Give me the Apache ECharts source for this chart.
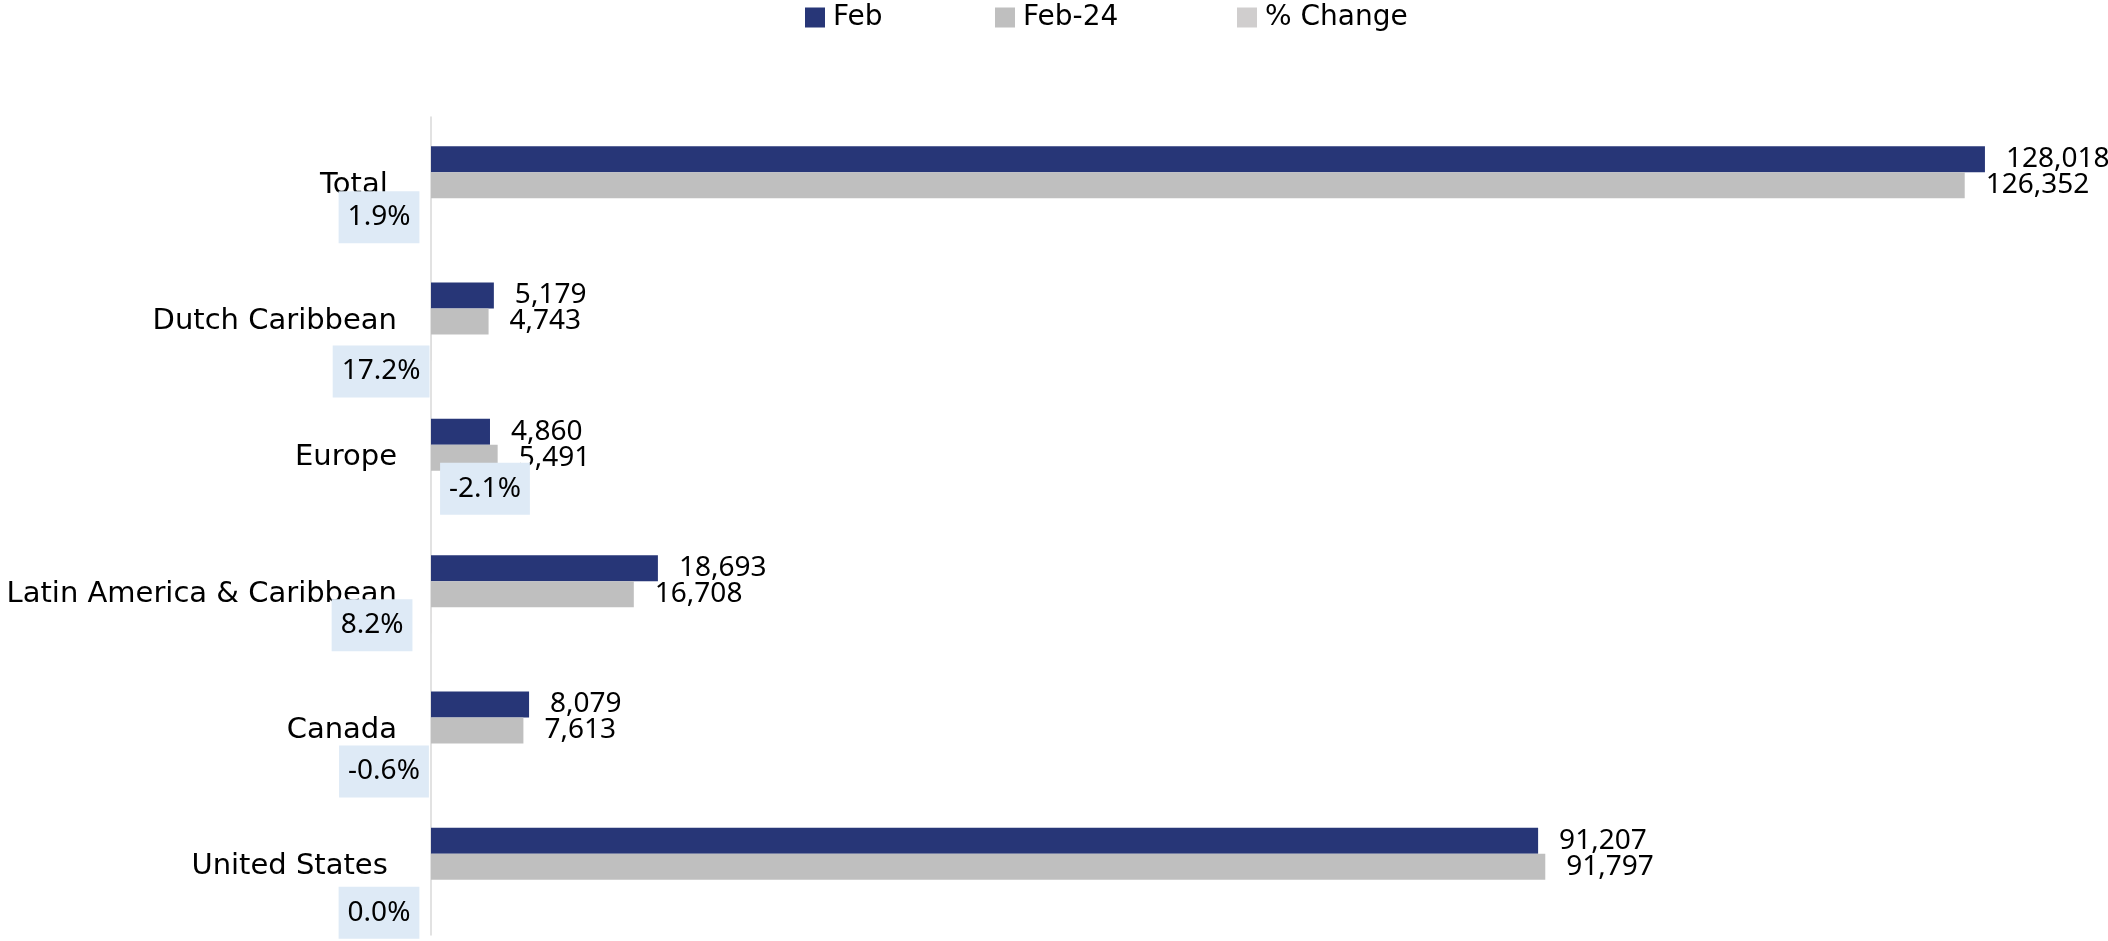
<!DOCTYPE html>
<html>
<head>
<meta charset="utf-8">
<script src="https://cdn.jsdelivr.net/npm/echarts@6/dist/echarts.min.js"></script>
<style>
  html, body { margin: 0; padding: 0; background: #fff; }
  #chart { width: 2108px; height: 941px; }
</style>
</head>
<body>
<div id="chart"></div>
<script>
// ---- data ----
const categories = ['Total ', 'Dutch Caribbean', 'Europe', 'Latin America & Caribbean', 'Canada', 'United States '];
const febValues = [128018, 5179, 4860, 18693, 8079, 91207];
const feb24Values = [126352, 4743, 5491, 16708, 7613, 91797];
const pctChange = [1.9, 17.2, -2.1, 8.2, -0.6, 0.0];
const seriesNames = ['Feb', 'Feb-24', '% Change'];

// ---- styling (positions of % labels, not data) ----
const pctLabelOffsets = [[-52, 6], [-50, 24], [54, 5], [-59, 5], [-47, 15], [-52, 20]];
const TEXT_FONT = '"DejaVu Sans", sans-serif';
const NUM_FONT = '"Noto Sans", sans-serif';

const chart = echarts.init(document.getElementById('chart'), null, { renderer: 'canvas' });

const valueLabel = {
  show: true,
  position: 'right',
  distance: 21,
  color: '#000',
  fontFamily: NUM_FONT,
  fontSize: 28,
  formatter: p => p.value.toLocaleString('en-US')
};

chart.setOption({
  animation: false,
  backgroundColor: '#fff',
  textStyle: { fontFamily: TEXT_FONT },
  legend: [
    { data: [seriesNames[0]], left: 805, top: 0 },
    { data: [seriesNames[1]], left: 995, top: 0 },
    { data: [seriesNames[2]], left: 1237, top: 0 }
  ].map(l => Object.assign(l, {
    icon: 'rect', itemWidth: 20, itemHeight: 20, selectedMode: false, padding: 0,
    textStyle: { fontFamily: TEXT_FONT, fontSize: 28, color: '#000', lineHeight: 35, padding: [0, 0, 0, 3] }
  })),
  grid: { left: 431, right: 99, top: 117, bottom: 6, containLabel: false, outerBoundsMode: 'none' },
  xAxis: {
    type: 'value', min: 0, max: 130000, show: false,
    splitLine: { show: false }
  },
  yAxis: {
    type: 'category',
    data: categories,
    inverse: true,
    axisLine: { show: true, lineStyle: { color: '#D9D9D9', width: 1.5 } },
    axisTick: { show: false },
    axisLabel: { margin: 34, color: '#000', fontFamily: TEXT_FONT, fontSize: 29 }
  },
  series: [
    {
      name: seriesNames[0], type: 'bar', data: febValues,
      barWidth: 26, barGap: '0%',
      itemStyle: { color: '#273677' },
      label: valueLabel
    },
    {
      name: seriesNames[1], type: 'bar', data: feb24Values,
      barWidth: 26, barGap: '0%',
      itemStyle: { color: '#BFBFBF' },
      label: valueLabel
    },
    {
      name: seriesNames[2], type: 'bar', clip: false,
      barWidth: 26, barGap: '0%',
      itemStyle: { color: '#D0CECE' },
      data: pctChange.map((v, i) => ({
        value: v,
        label: { offset: pctLabelOffsets[i] }
      })),
      label: {
        show: true,
        position: 'inside',
        color: '#000',
        fontFamily: NUM_FONT,
        fontSize: 28,
        lineHeight: 34,
        backgroundColor: '#DEEAF6',
        padding: [9, 9],
        formatter: p => pctChange[p.dataIndex].toFixed(1) + '%'
      }
    }
  ]
});
</script>
</body>
</html>
